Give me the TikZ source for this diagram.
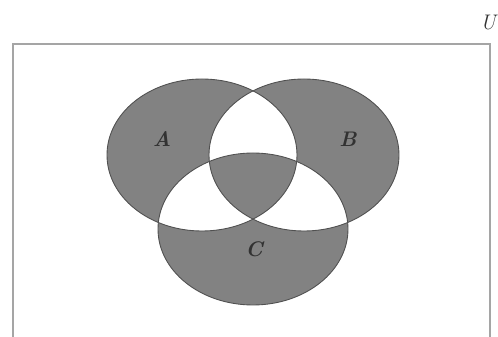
\documentclass[tikz,border=0pt]{standalone}
\usepackage{tikz}
\usetikzlibrary{positioning}
\definecolor{setfill}{RGB}{130,130,130}
\definecolor{setline}{RGB}{80,80,80}
\definecolor{boxline}{RGB}{165,165,165}
\definecolor{labelgray}{RGB}{50,50,50}

\begin{document}
\begin{tikzpicture}[x=0.02cm, y=-0.02cm,
    setlabel/.style={text=labelgray, font=\large\bfseries\itshape}]
  \clip (0,0) rectangle (498,337);
  % universe
  \draw[boxline, line width=1.6pt] (13,340) -- (13,44) -- (490,44) -- (490,340);
  \node[setlabel, font=\large\itshape] (U) at (488,23) {U};
  % set centres
  \coordinate (A) at (202,155);
  \coordinate (B) at (304,155);
  \coordinate (C) at (253,229);
  % odd regions shaded
  \fill[setfill, even odd rule]
    (A) ellipse [x radius=95, y radius=76]
    (B) ellipse [x radius=95, y radius=76]
    (C) ellipse [x radius=95, y radius=76];
  \foreach \s in {A, B, C} {
    \draw[setline, line width=0.5pt] (\s) ellipse [x radius=95, y radius=76];
  }
  \node[setlabel] (labA) at (162,139) {A};
  \node[setlabel] (labB) at (348,139) {B};
  \node[setlabel] (labC) at (254,249) {C};
\end{tikzpicture}
\end{document}
